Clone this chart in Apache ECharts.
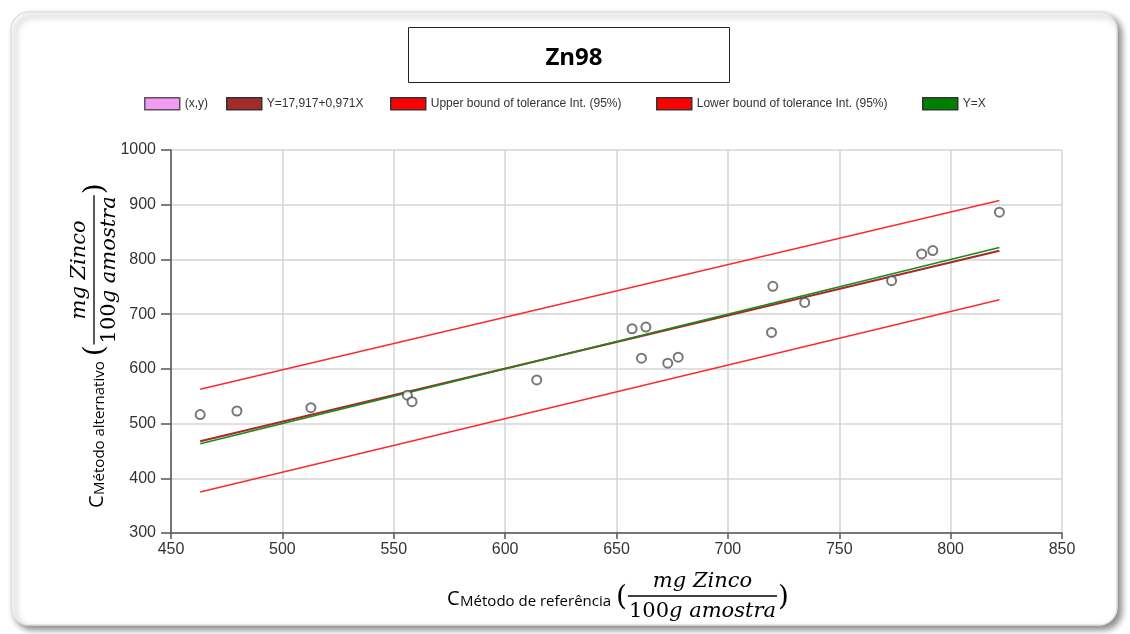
<!DOCTYPE html>
<html>
<head>
<meta charset="utf-8">
<script src="https://cdn.jsdelivr.net/npm/echarts@6/dist/echarts.min.js"></script>
<style>
  html, body { margin: 0; padding: 0; background: #ffffff; }
  #chart { width: 1130px; height: 634px; }
</style>
</head>
<body>
<div id="chart"></div>
<script>
// Zn98: alternative vs reference method (mg Zinco / 100g amostra)
const chartTitle = 'Zn98';

// Reference-method results (x) and alternative-method results (y)
const refValues = [463.1, 479.6, 512.8, 556.1, 558.2, 614.2, 657.0, 661.2, 663.2, 673.0, 677.7, 719.6, 720.2, 734.5, 773.5, 787.0, 792.0, 821.9];
const altValues = [516.5, 523.0, 529.0, 551.8, 540.0, 579.8, 673.3, 619.6, 676.4, 610.4, 621.4, 666.5, 750.8, 721.5, 761.2, 810.0, 816.2, 886.4];

// Fitted line as stated in the legend: Y = 17,917 + 0,971X
const fitIntercept = 17.917;
const fitSlope = 0.971;
const lineRange = [463.1, 821.9];

// Tolerance interval (95%) end points
const upperBound = [[463.1, 562.8], [821.9, 907.8]];
const lowerBound = [[463.1, 375.1], [821.9, 726.2]];

// Axis scales
const xAxisRange = [450, 850, 50];
const yAxisRange = [300, 1000, 100];

// Legend entries
const seriesNames = ['(x,y)', 'Y=17,917+0,971X', 'Upper bound of tolerance Int. (95%)', 'Lower bound of tolerance Int. (95%)', 'Y=X'];
const seriesColors = ['#EE82EE', '#A52A2A', '#FF0000', '#FF0000', '#008000'];
const legendLefts = [144, 226, 390, 656, 922];

// Axis title pieces
const xTitleSub = 'Método de referência';
const yTitleSub = 'Método alternativo';
const fracTop = 'mg Zinco';
const fracBottomNum = '100';
const fracBottomRest = 'g amostra';

const scatterData = refValues.map((x, i) => [x, altValues[i]]);
const fitData = lineRange.map(x => [x, fitIntercept + fitSlope * x]);
const identityData = lineRange.map(x => [x, x]);

// text measurement for laying out the axis titles
const measureCtx = document.createElement('canvas').getContext('2d');
function textWidth(font, text) { measureCtx.font = font; return measureCtx.measureText(text).width; }

const sansFont = '"Open Sans", "Noto Sans", sans-serif';
const mathFont = '"DejaVu Serif", "Liberation Serif", serif';
const tickFont = '"Liberation Sans", Arial, sans-serif';

function axisTitle(sub, x, y, rotation) {
  const fC = '20px ' + sansFont;
  const fSub = '15px ' + sansFont;
  const fMath = 'italic 21px ' + mathFont;
  const fNum = '21px ' + mathFont;
  const fParen = '28px ' + mathFont;
  const wC = textWidth(fC, 'C');
  const wSub = textWidth(fSub, sub);
  const wTop = textWidth(fMath, fracTop);
  const wBot = textWidth(fNum, fracBottomNum) + textWidth(fMath, fracBottomRest);
  const wParen = textWidth(fParen, '(');
  const subX = wC + 0.5;
  const parenX = subX + wSub + 5;
  const barX = parenX + wParen + 1;
  const barW = Math.max(wTop, wBot) + 2;
  const mid = barX + barW / 2;
  const children = [
    { type: 'text', x: 0, y: 3, style: { text: 'C', font: fC, fill: '#000', verticalAlign: 'middle' } },
    { type: 'text', x: subX, y: 6, style: { text: sub, font: fSub, fill: '#000', verticalAlign: 'middle' } },
    { type: 'text', x: parenX, y: 2, style: { text: '(', font: fParen, fill: '#000', verticalAlign: 'middle' } },
    { type: 'line', shape: { x1: barX, y1: 0, x2: barX + barW, y2: 0 }, style: { stroke: '#000', lineWidth: 1.3 } },
    { type: 'text', x: mid, y: -14, style: { text: fracTop, font: fMath, fill: '#000', align: 'center', verticalAlign: 'middle' } },
    { type: 'text', x: mid, y: 16, style: {
        text: '{n|' + fracBottomNum + '}{i|' + fracBottomRest + '}', align: 'center', verticalAlign: 'middle',
        rich: { n: { font: fNum, fill: '#000' }, i: { font: fMath, fill: '#000' } } } },
    { type: 'text', x: barX + barW + 1, y: 2, style: { text: ')', font: fParen, fill: '#000', verticalAlign: 'middle' } }
  ];
  return { type: 'group', x: x, y: y, rotation: rotation, children: children };
}

const legends = seriesNames.map((name, i) => ({
  left: legendLefts[i],
  top: 97,
  padding: 0,
  itemWidth: 35,
  itemHeight: 12,
  icon: 'rect',
  selectedMode: false,
  textStyle: { fontSize: 12, color: '#333', fontFamily: tickFont },
  data: [{ name: name, icon: 'rect', itemStyle: { color: seriesColors[i], borderColor: '#333', borderWidth: 1.5 } }]
}));

const chart = echarts.init(document.getElementById('chart'), null, { renderer: 'canvas' });

chart.setOption({
  animation: false,
  backgroundColor: '#ffffff',
  title: {
    text: chartTitle,
    left: 569,
    top: 41,
    textAlign: 'center',
    textStyle: { fontSize: 24, fontWeight: 'bold', color: '#000', fontFamily: sansFont }
  },
  legend: legends,
  grid: { left: 171, right: 68, top: 150, bottom: 101, containLabel: false },
  xAxis: {
    type: 'value',
    min: xAxisRange[0], max: xAxisRange[1], interval: xAxisRange[2],
    axisLine: { show: true, onZero: false, lineStyle: { color: '#555', width: 1.5 } },
    axisTick: { show: true, length: 6, lineStyle: { color: '#555', width: 1.5 } },
    axisLabel: { fontSize: 16, color: '#333', margin: 9, fontFamily: tickFont, formatter: v => String(v) },
    splitLine: { show: true, lineStyle: { color: '#d4d4d4', width: 1.5 } }
  },
  yAxis: {
    type: 'value',
    min: yAxisRange[0], max: yAxisRange[1], interval: yAxisRange[2],
    axisLine: { show: true, onZero: false, lineStyle: { color: '#555', width: 1.5 } },
    axisTick: { show: true, length: 10, lineStyle: { color: '#555', width: 1.5 } },
    axisLabel: { fontSize: 16, color: '#333', margin: 15, fontFamily: tickFont, formatter: v => String(v) },
    splitLine: { show: true, lineStyle: { color: '#d4d4d4', width: 1.5 } }
  },
  graphic: [
    { type: 'rect', z: -10, silent: true,
      shape: { x: 11, y: 12, width: 1106, height: 613, r: 18 },
      style: { fill: '#fff', stroke: '#e0e0e0', lineWidth: 1.5, shadowBlur: 6, shadowOffsetX: 4, shadowOffsetY: 4, shadowColor: 'rgba(0,0,0,0.45)' } },
    { type: 'rect', z: -5, silent: true,
      shape: { x: 408.5, y: 27.5, width: 321, height: 55 },
      style: { fill: '#fff', stroke: '#222', lineWidth: 1 } },
    axisTitle(xTitleSub, 447, 596, 0),
    axisTitle(yTitleSub, 94, 508, Math.PI / 2)
  ],
  series: [
    { name: seriesNames[0], type: 'scatter', data: scatterData, symbol: 'circle', symbolSize: 9, z: 5,
      itemStyle: { color: '#fff', borderColor: '#555', borderWidth: 2 } },
    { name: seriesNames[1], type: 'line', data: fitData, showSymbol: false, symbol: 'none', z: 3,
      itemStyle: { color: seriesColors[1] }, lineStyle: { color: seriesColors[1], width: 2 } },
    { name: seriesNames[2], type: 'line', data: upperBound, showSymbol: false, symbol: 'none', z: 3,
      itemStyle: { color: seriesColors[2] }, lineStyle: { color: '#ff2a2a', width: 1.5 } },
    { name: seriesNames[3], type: 'line', data: lowerBound, showSymbol: false, symbol: 'none', z: 3,
      itemStyle: { color: seriesColors[3] }, lineStyle: { color: '#ff2a2a', width: 1.5 } },
    { name: seriesNames[4], type: 'line', data: identityData, showSymbol: false, symbol: 'none', z: 4,
      itemStyle: { color: seriesColors[4] }, lineStyle: { color: '#1a8a1a', width: 1.6 } }
  ]
});
</script>
</body>
</html>
